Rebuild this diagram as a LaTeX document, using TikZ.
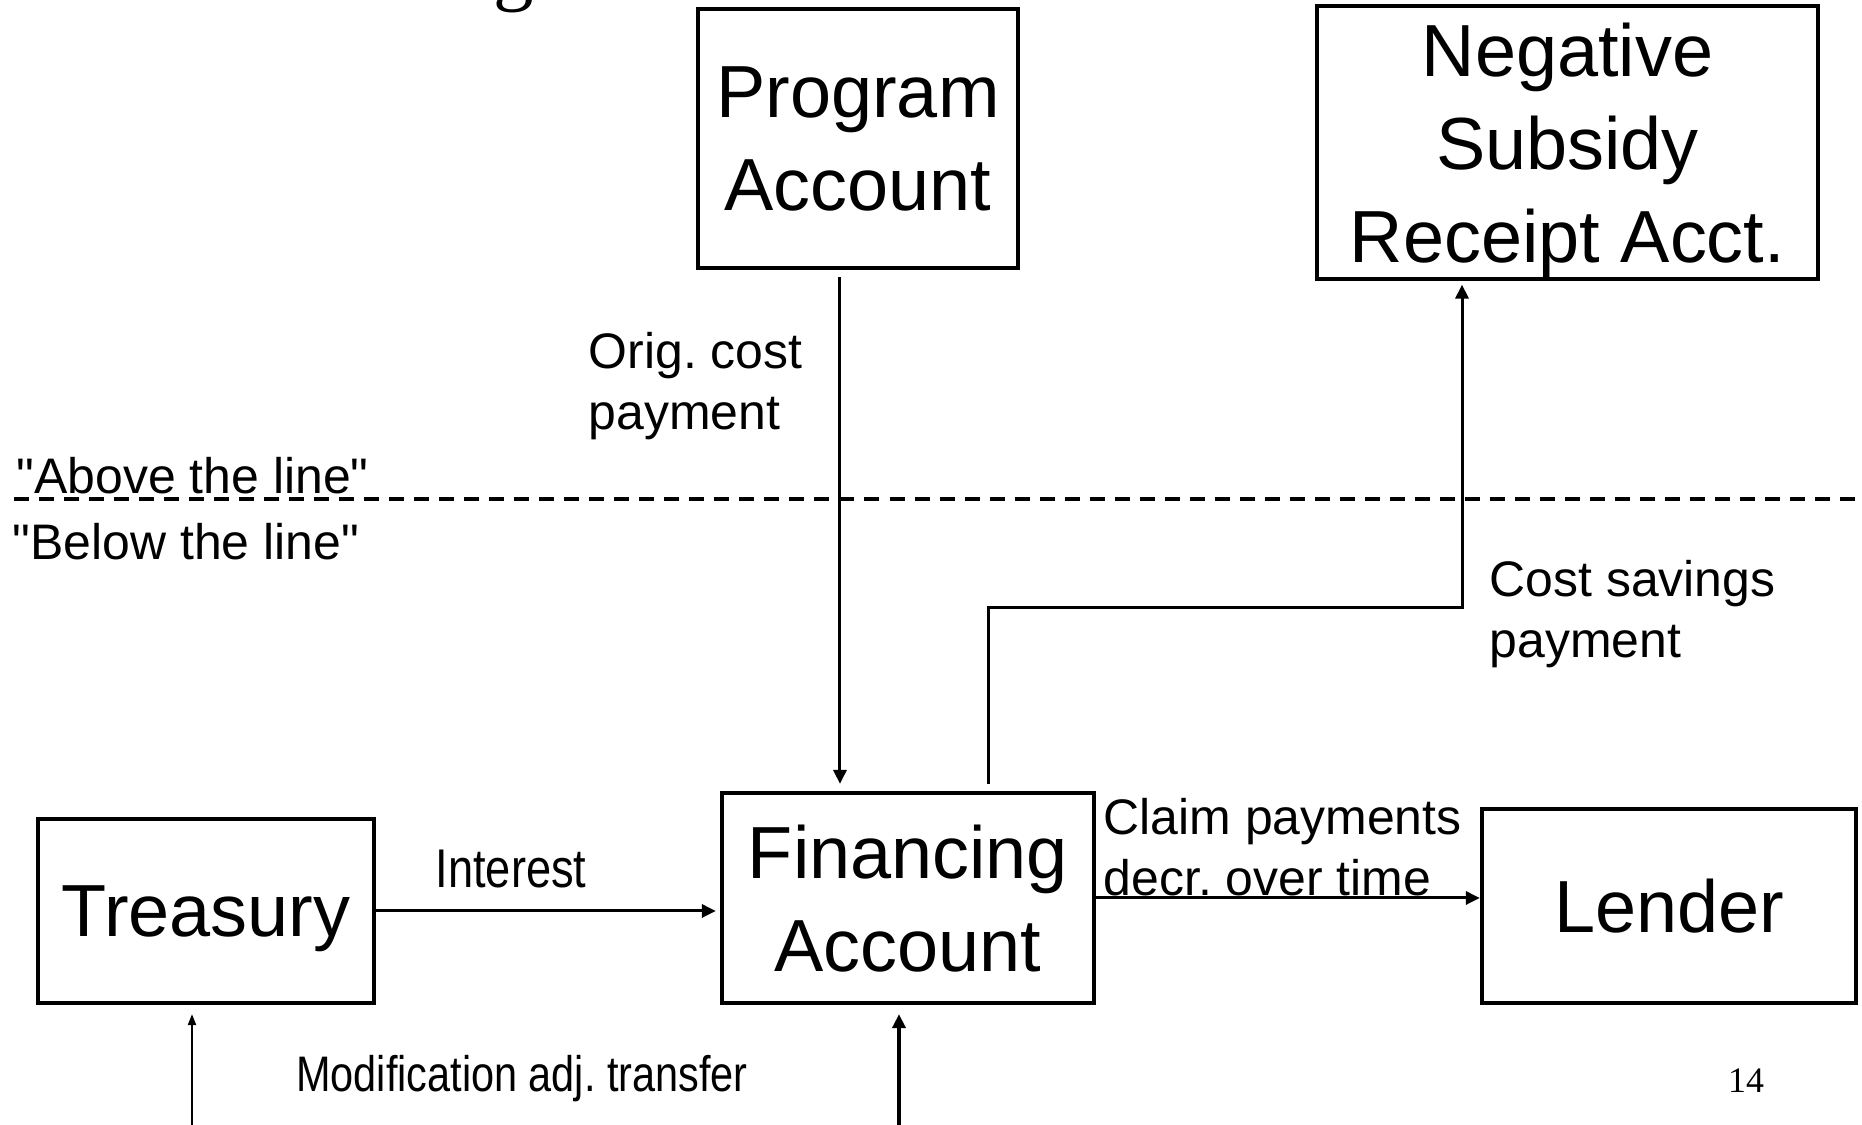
\documentclass[tikz,border=0pt]{standalone}
\usepackage{fontspec}
\setmainfont{Liberation Sans}
\newfontfamily\plainsans{Liberation Sans}
\newfontfamily\narrowfont[FakeStretch=0.83]{Liberation Sans}
\newfontfamily\seriffont{Liberation Serif}
\usetikzlibrary{arrows.meta}

\begin{document}
\frenchspacing
\begin{tikzpicture}[x=0.01cm,y=-0.01cm,acct/.style={shape=rectangle,draw=black,line width=1.15pt,align=center,inner sep=0pt,text depth=0pt,font=\fontsize{21}{26.5}\selectfont},flow/.style={line width=0.85pt,-{Triangle[length=0.14cm,width=0.13cm]}},flowS/.style={line width=0.6pt,-{Triangle[length=0.11cm,width=0.08cm]}},lbl/.style={inner sep=0pt,align=left,font=\fontsize{14.2}{17.4}\selectfont},lblQ/.style={lbl,font=\plainsans\fontsize{14.2}{17.4}\selectfont},lblN/.style={inner sep=0pt,font=\narrowfont\fontsize{14.2}{17.4}\selectfont},divider/.style={line width=1.1pt,dash pattern=on 0.15cm off 0.1cm}]
\def\gap{0.07cm};

\useasboundingbox (0,0) rectangle (1862,1125);

\node[font=\seriffont\fontsize{23}{28}\selectfont,anchor=base] (ttl) at (514,-4) {g};

\node[acct,minimum width=3.2cm,minimum height=2.59cm] (prog) at (858,138.5) {Program\\Account};
\node[acct,minimum width=5.01cm,minimum height=2.73cm] (negsub) at (1567.5,142.5) {Negative\\Subsidy\\Receipt Acct.};
\node[acct,minimum width=3.36cm,minimum height=1.84cm] (treas) at (206,911) {Treasury};
\node[acct,minimum width=3.72cm,minimum height=2.10cm] (fin) at (908,898) {Financing\\Account};
\node[acct,minimum width=3.74cm,minimum height=1.94cm] (lend) at (1669,906) {Lender};

\coordinate (lineL) at (14,499);
\coordinate (lineR) at (1862,499);
\draw[divider] (lineL) -- (lineR);
\node[lblQ,anchor=base west] (above) at (16,494) {"Above the line"};
\node[lblQ,anchor=base west] (below) at (12,560) {"Below the line"};

\draw[flow,shorten <=\gap,shorten >=\gap] ([xshift=-0.18cm]prog.south) -- ([xshift=-0.18cm]prog.south |- fin.north);
\node[lbl,anchor=west] (orig) at (588,386) {Orig. cost\\payment};

\coordinate (bend) at (1462,608);
\draw[flow,shorten <=\gap,shorten >=0.035cm] ([xshift=0.8cm]fin.north) |- (bend) -- (bend |- negsub.south);
\node[lbl,anchor=west] (saving) at (1489,614) {Cost savings\\payment};

\draw[flow,shorten >=0.04cm] (treas.east) -- (treas.east -| fin.west);
\node[lblN,font=\narrowfont\fontsize{15.5}{18}\selectfont,anchor=base] (intr) at (511,888) {Interest};

\draw[flow] (fin.east) -- (fin.east -| lend.west);
\node[lbl,anchor=west] (claim) at (1103,847) {Claim payments\\decr. over time};

\coordinate (treasIn) at (192,1125);
\coordinate (finIn) at (899,1125);
\draw[flowS,shorten >=0.09cm] (treasIn) -- (treasIn |- treas.south);
\draw[flow,line width=1pt,shorten >=0.09cm] (finIn) -- (finIn |- fin.south);
\node[lblN,anchor=base] (modif) at (522,1092) {Modification adj. transfer};

\node[font=\seriffont\fontsize{10.2}{12}\selectfont,anchor=base] (pgno) at (1746,1093) {14};

\end{tikzpicture}
\end{document}
